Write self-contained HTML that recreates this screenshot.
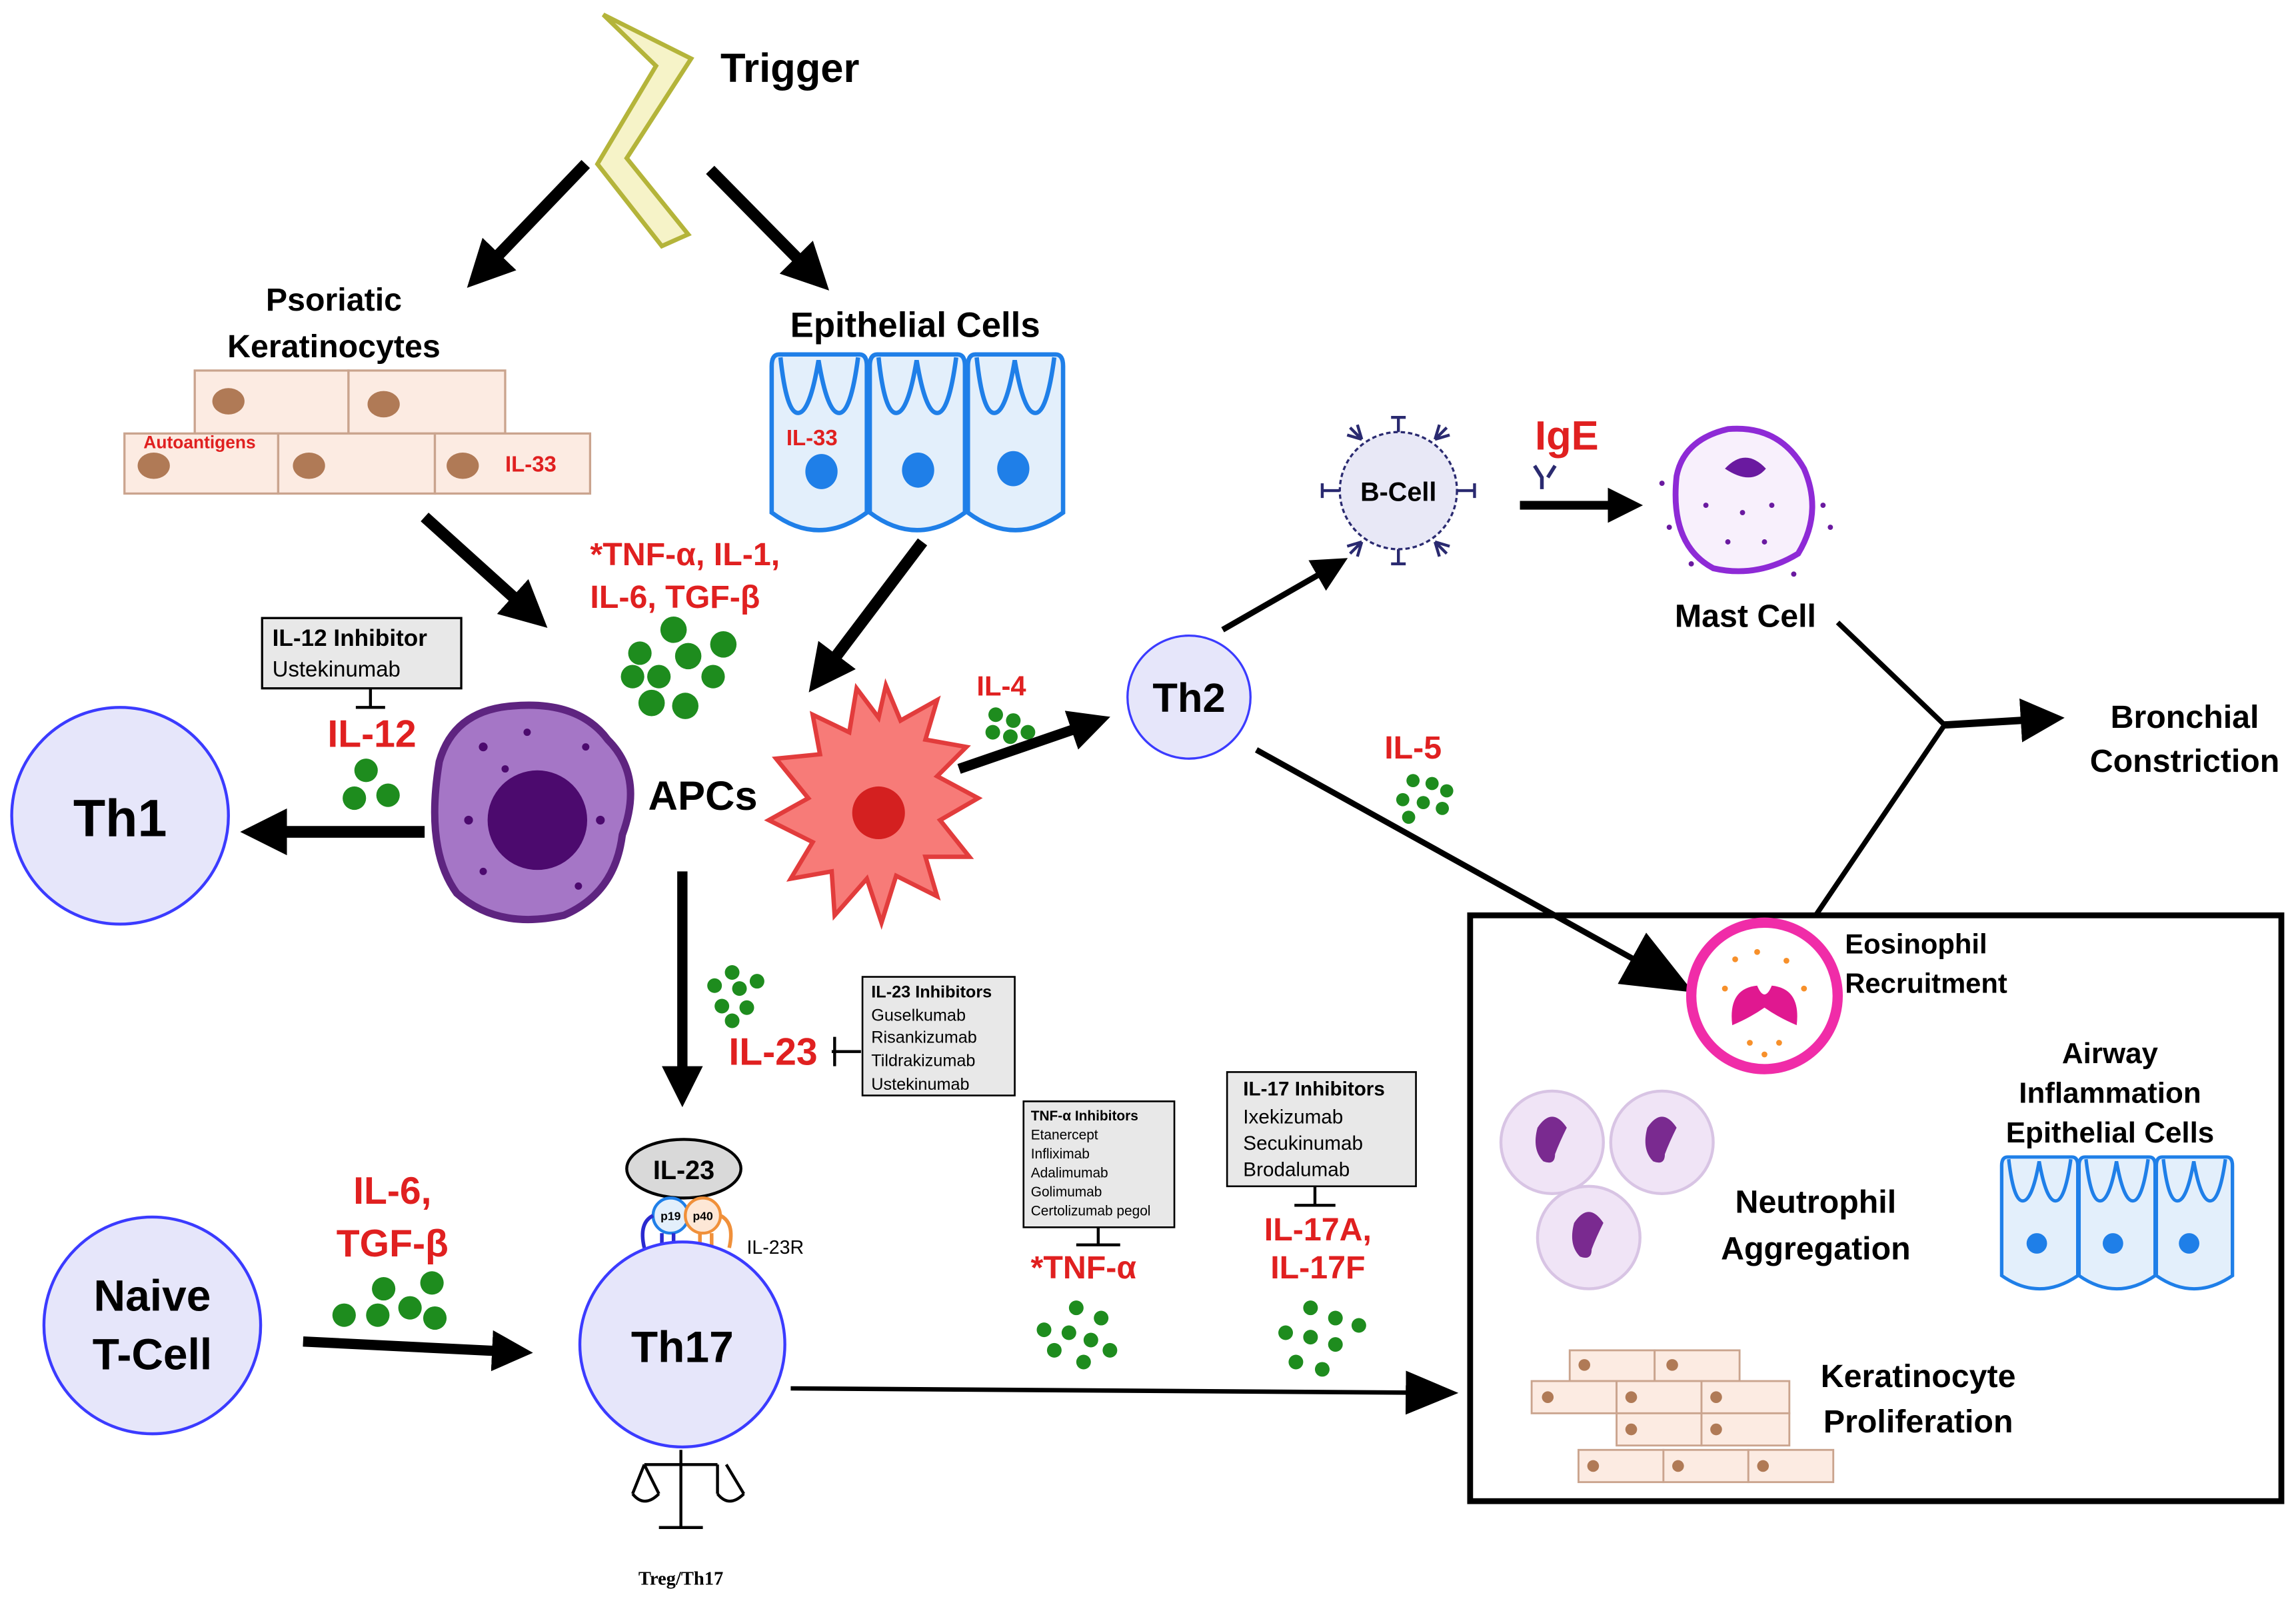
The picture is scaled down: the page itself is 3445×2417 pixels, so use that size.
<!DOCTYPE html>
<html><head><meta charset="utf-8"><style>
html,body{margin:0;padding:0;background:#fff}
svg{display:block}
text{font-family:"Liberation Sans",sans-serif;font-weight:bold}
text.n{font-weight:normal}
</style></head><body>
<svg width="3445" height="2417" viewBox="0 0 1568 1100" preserveAspectRatio="none" xmlns="http://www.w3.org/2000/svg">
<defs>
<marker id="ah" markerWidth="4" markerHeight="4" refX="2" refY="2" orient="auto" markerUnits="strokeWidth"><path d="M0,0 L4,2 L0,4 z" fill="#000"/></marker>
<marker id="ah2" markerWidth="6" markerHeight="6" refX="3" refY="3" orient="auto" markerUnits="strokeWidth"><path d="M0,0 L6,3 L0,6 z" fill="#000"/></marker>
<marker id="ah3" markerWidth="12" markerHeight="10" refX="5" refY="5" orient="auto" markerUnits="strokeWidth"><path d="M0,0 L12,5 L0,10 z" fill="#000"/></marker>
<g id="ep">
<path d="M0,8 Q0,0 5,0 L60,0 Q65,0 65,8 L65,108 Q32,132 0,108 Z" fill="#e3effb" stroke="#1f7fe8" stroke-width="3"/>
<path d="M6,2 Q10,40 18,40 Q26,40 32,4 Q38,40 46,40 Q54,40 59,2" fill="none" stroke="#1f7fe8" stroke-width="3"/>
</g>
</defs>

<path d="M412,10 L472,40 L428,108 L470,160 L452,168 L408,112 L448,45 Z" fill="#f6f3c8" stroke="#b4b43a" stroke-width="3"/>
<text x="492" y="56" font-size="28">Trigger</text>

<line x1="400" y1="112" x2="330" y2="185" stroke="#000" stroke-width="8" marker-end="url(#ah)"/>
<line x1="485" y1="116" x2="555" y2="187" stroke="#000" stroke-width="8" marker-end="url(#ah)"/>

<text x="228" y="212" font-size="22" text-anchor="middle">Psoriatic</text>
<text x="228" y="244" font-size="22" text-anchor="middle">Keratinocytes</text>
<g fill="#fcebe2" stroke="#caa48e" stroke-width="1.5">
<rect x="133" y="253" width="105" height="43"/><rect x="238" y="253" width="107" height="43"/>
<rect x="85" y="296" width="105" height="41"/><rect x="190" y="296" width="107" height="41"/><rect x="297" y="296" width="106" height="41"/>
</g>
<g fill="#b07a56"><ellipse cx="156" cy="274" rx="11" ry="9"/><ellipse cx="262" cy="276" rx="11" ry="9"/><ellipse cx="105" cy="318" rx="11" ry="9"/><ellipse cx="211" cy="318" rx="11" ry="9"/><ellipse cx="316" cy="318" rx="11" ry="9"/></g>
<text x="98" y="306" font-size="12" fill="#e02020">Autoantigens</text>
<text x="345" y="322" font-size="15" fill="#e02020">IL-33</text>

<text x="625" y="230" font-size="24" text-anchor="middle">Epithelial Cells</text>
<use href="#ep" x="527" y="242"/><use href="#ep" x="594" y="242"/><use href="#ep" x="661" y="242"/>
<g fill="#1f7fe8"><ellipse cx="561" cy="322" rx="11" ry="12"/><ellipse cx="627" cy="321" rx="11" ry="12"/><ellipse cx="692" cy="320" rx="11" ry="12"/></g>
<text x="537" y="304" font-size="15" fill="#e02020">IL-33</text>

<line x1="290" y1="353" x2="362" y2="418" stroke="#000" stroke-width="8" marker-end="url(#ah)"/>
<line x1="630" y1="370" x2="562" y2="460" stroke="#000" stroke-width="8" marker-end="url(#ah)"/>

<text x="403" y="386" font-size="22" fill="#e02020">*TNF-α, IL-1,</text>
<text x="403" y="415" font-size="22" fill="#e02020">IL-6, TGF-β</text>
<g fill="#1e8c1e"><circle cx="460" cy="430" r="9"/><circle cx="437" cy="446" r="8"/><circle cx="470" cy="448" r="9"/><circle cx="494" cy="440" r="9"/><circle cx="432" cy="462" r="8"/><circle cx="450" cy="462" r="8"/><circle cx="487" cy="462" r="8"/><circle cx="445" cy="480" r="9"/><circle cx="468" cy="482" r="9"/></g>

<rect x="179" y="422" width="136" height="48" fill="#e8e8e8" stroke="#000" stroke-width="1.5"/>
<text x="186" y="441" font-size="16">IL-12 Inhibitor</text>
<text x="186" y="462" font-size="15" class="n">Ustekinumab</text>
<line x1="253" y1="470" x2="253" y2="483" stroke="#000" stroke-width="2"/><line x1="243" y1="483" x2="263" y2="483" stroke="#000" stroke-width="2"/>
<text x="254" y="510" font-size="26" fill="#e02020" text-anchor="middle">IL-12</text>
<g fill="#1e8c1e"><circle cx="250" cy="526" r="8"/><circle cx="242" cy="545" r="8"/><circle cx="265" cy="543" r="8"/></g>

<circle cx="82" cy="557" r="74" fill="#e6e6fa" stroke="#3b3bff" stroke-width="2"/>
<text x="82" y="571" font-size="36" text-anchor="middle">Th1</text>
<line x1="290" y1="568" x2="180" y2="568" stroke="#000" stroke-width="8" marker-end="url(#ah)"/>

<path d="M300,520 Q310,485 350,482 Q395,478 415,505 Q440,530 425,570 Q420,610 385,625 Q340,635 312,610 Q290,580 300,520 Z" fill="#a576c6" stroke="#5e2480" stroke-width="5"/>
<circle cx="367" cy="560" r="34" fill="#4c0a6e"/>
<g fill="#4c0a6e"><circle cx="330" cy="510" r="3"/><circle cx="345" cy="525" r="2.5"/><circle cx="320" cy="560" r="3"/><circle cx="330" cy="595" r="2.5"/><circle cx="400" cy="510" r="2.5"/><circle cx="410" cy="560" r="3"/><circle cx="395" cy="605" r="2.5"/><circle cx="360" cy="500" r="2.5"/></g>
<text x="480" y="553" font-size="28" text-anchor="middle">APCs</text>

<g fill="#f77b78" stroke="#e23c3c" stroke-width="3">
<path d="M600,490 L605,468 L615,492 L640,478 L632,505 L660,510 L640,530 L668,545 L642,560 L662,585 L632,585 L640,612 L612,598 L602,630 L592,600 L570,625 L568,595 L540,600 L555,575 L525,560 L552,545 L530,518 L560,515 L555,488 L580,500 L585,470 Z"/>
</g>
<circle cx="600" cy="555" r="18" fill="#d42020"/>

<text x="667" y="475" font-size="19" fill="#e02020">IL-4</text>
<g fill="#1e8c1e"><circle cx="680" cy="488" r="5"/><circle cx="692" cy="492" r="5"/><circle cx="678" cy="500" r="5"/><circle cx="690" cy="503" r="5"/><circle cx="702" cy="500" r="5"/></g>
<line x1="655" y1="525" x2="745" y2="494" stroke="#000" stroke-width="7" marker-end="url(#ah)"/>
<circle cx="812" cy="476" r="42" fill="#e6e6fa" stroke="#3b3bff" stroke-width="1.5"/>
<text x="812" y="486" font-size="28" text-anchor="middle">Th2</text>
<line x1="835" y1="430" x2="910" y2="387" stroke="#000" stroke-width="4" marker-end="url(#ah2)"/>

<circle cx="955" cy="335" r="40" fill="#e8e8f6" stroke="#2a2a70" stroke-width="1.5" stroke-dasharray="3,2"/>
<g stroke="#2a2a70" stroke-width="2" fill="none">
<path d="M930,300 l-8,-8 M930,300 l-3,-10 M930,300 l-10,-3"/><path d="M980,300 l8,-8 M980,300 l3,-10 M980,300 l10,-3"/>
<path d="M930,370 l-8,8 M930,370 l-3,10 M930,370 l-10,3"/><path d="M980,370 l8,8 M980,370 l3,10 M980,370 l10,3"/>
<path d="M915,335 h-12 M903,330 v10"/><path d="M995,335 h12 M1007,330 v10"/>
<path d="M955,295 v-10 M950,285 h10"/><path d="M955,375 v10 M950,385 h10"/>
</g>
<text x="955" y="342" font-size="18" text-anchor="middle">B-Cell</text>
<text x="1070" y="307" font-size="28" fill="#e02020" text-anchor="middle">IgE</text>
<path d="M1048,318 l5,8 v8 M1062,318 l-5,8" stroke="#2a2a70" stroke-width="2.5" fill="none"/>
<line x1="1038" y1="345" x2="1110" y2="345" stroke="#000" stroke-width="6" marker-end="url(#ah)"/>

<path d="M1145,325 Q1150,300 1180,293 Q1215,290 1232,320 Q1245,350 1228,378 Q1200,395 1170,388 Q1140,372 1145,325 Z" fill="#f8f0fc" stroke="#8e2ad6" stroke-width="4"/>
<path d="M1178,320 Q1192,305 1206,320 Q1196,332 1178,320 Z" fill="#6a1aa0"/>
<g fill="#6a1aa0"><circle cx="1165" cy="345" r="1.8"/><circle cx="1190" cy="350" r="1.8"/><circle cx="1210" cy="345" r="1.8"/><circle cx="1180" cy="370" r="1.8"/><circle cx="1205" cy="370" r="1.8"/><circle cx="1135" cy="330" r="1.8"/><circle cx="1140" cy="360" r="1.8"/><circle cx="1245" cy="345" r="1.8"/><circle cx="1250" cy="360" r="1.8"/><circle cx="1155" cy="385" r="1.8"/><circle cx="1225" cy="392" r="1.8"/></g>
<text x="1192" y="428" font-size="22" text-anchor="middle">Mast Cell</text>

<polyline points="1255,425 1328,495 1240,625" fill="none" stroke="#000" stroke-width="3.5"/>
<line x1="1328" y1="495" x2="1395" y2="491" stroke="#000" stroke-width="5" marker-end="url(#ah2)"/>
<text x="1492" y="497" font-size="22" text-anchor="middle">Bronchial</text>
<text x="1492" y="527" font-size="22" text-anchor="middle">Constriction</text>

<text x="965" y="518" font-size="22" fill="#e02020" text-anchor="middle">IL-5</text>
<g fill="#1e8c1e"><circle cx="965" cy="533" r="4.5"/><circle cx="978" cy="535" r="4.5"/><circle cx="988" cy="540" r="4.5"/><circle cx="958" cy="546" r="4.5"/><circle cx="972" cy="548" r="4.5"/><circle cx="985" cy="552" r="4.5"/><circle cx="962" cy="558" r="4.5"/></g>
<line x1="858" y1="512" x2="1132" y2="664" stroke="#000" stroke-width="4" marker-end="url(#ah3)"/>

<line x1="466" y1="595" x2="466" y2="742" stroke="#000" stroke-width="7" marker-end="url(#ah)"/>
<g fill="#1e8c1e"><circle cx="500" cy="664" r="5"/><circle cx="488" cy="673" r="5"/><circle cx="505" cy="675" r="5"/><circle cx="517" cy="670" r="5"/><circle cx="493" cy="687" r="5"/><circle cx="510" cy="688" r="5"/><circle cx="500" cy="697" r="5"/></g>
<text x="528" y="727" font-size="26" fill="#e02020" text-anchor="middle">IL-23</text>
<line x1="568" y1="718" x2="588" y2="718" stroke="#000" stroke-width="2"/><line x1="570" y1="708" x2="570" y2="728" stroke="#000" stroke-width="2"/>
<rect x="589" y="667" width="104" height="81" fill="#e8e8e8" stroke="#000" stroke-width="1.2"/>
<text x="595" y="681" font-size="11.5">IL-23 Inhibitors</text>
<text x="595" y="697" font-size="11.5" class="n">Guselkumab</text><text x="595" y="712" font-size="11.5" class="n">Risankizumab</text><text x="595" y="728" font-size="11.5" class="n">Tildrakizumab</text><text x="595" y="744" font-size="11.5" class="n">Ustekinumab</text>

<rect x="699" y="752" width="103" height="86" fill="#e8e8e8" stroke="#000" stroke-width="1.2"/>
<text x="704" y="765" font-size="9.5">TNF-α Inhibitors</text>
<text x="704" y="778" font-size="9.5" class="n">Etanercept</text>
<text x="704" y="791" font-size="9.5" class="n">Infliximab</text>
<text x="704" y="804" font-size="9.5" class="n">Adalimumab</text>
<text x="704" y="817" font-size="9.5" class="n">Golimumab</text>
<text x="704" y="830" font-size="9.5" class="n">Certolizumab pegol</text>
<line x1="750" y1="838" x2="750" y2="850" stroke="#000" stroke-width="2"/><line x1="735" y1="850" x2="765" y2="850" stroke="#000" stroke-width="2"/>
<text x="740" y="873" font-size="22" fill="#e02020" text-anchor="middle">*TNF-α</text>
<g fill="#1e8c1e"><circle cx="735" cy="893" r="5"/><circle cx="752" cy="900" r="5"/><circle cx="713" cy="908" r="5"/><circle cx="730" cy="910" r="5"/><circle cx="745" cy="915" r="5"/><circle cx="720" cy="922" r="5"/><circle cx="740" cy="930" r="5"/><circle cx="758" cy="922" r="5"/></g>

<rect x="838" y="732" width="129" height="78" fill="#e8e8e8" stroke="#000" stroke-width="1.2"/>
<text x="849" y="748" font-size="13.5">IL-17 Inhibitors</text>
<text x="849" y="767" font-size="13.5" class="n">Ixekizumab</text>
<text x="849" y="785" font-size="13.5" class="n">Secukinumab</text>
<text x="849" y="803" font-size="13.5" class="n">Brodalumab</text>
<line x1="898" y1="810" x2="898" y2="823" stroke="#000" stroke-width="2"/><line x1="884" y1="823" x2="912" y2="823" stroke="#000" stroke-width="2"/>
<text x="900" y="847" font-size="22" fill="#e02020" text-anchor="middle">IL-17A,</text>
<text x="900" y="873" font-size="22" fill="#e02020" text-anchor="middle">IL-17F</text>
<g fill="#1e8c1e"><circle cx="895" cy="893" r="5"/><circle cx="912" cy="900" r="5"/><circle cx="928" cy="905" r="5"/><circle cx="878" cy="910" r="5"/><circle cx="895" cy="913" r="5"/><circle cx="912" cy="918" r="5"/><circle cx="885" cy="930" r="5"/><circle cx="903" cy="935" r="5"/></g>

<ellipse cx="467" cy="798" rx="39" ry="20" fill="#d9d9d9" stroke="#000" stroke-width="2"/>
<text x="467" y="805" font-size="18" text-anchor="middle">IL-23</text>
<circle cx="458" cy="830" r="12" fill="#e3effb" stroke="#1f7fe8" stroke-width="2"/>
<circle cx="480" cy="830" r="12" fill="#fde7d6" stroke="#f0903a" stroke-width="2"/>
<text x="458" y="833" font-size="8" text-anchor="middle">p19</text><text x="480" y="833" font-size="8" text-anchor="middle">p40</text>
<path d="M446,830 Q436,835 440,852 M452,842 v15 M460,842 v15" stroke="#2a2ad0" stroke-width="2.5" fill="none"/>
<path d="M492,830 Q502,835 498,852 M478,842 v15 M486,842 v15" stroke="#f0903a" stroke-width="2.5" fill="none"/>
<text x="510" y="856" font-size="13" class="n">IL-23R</text>
<circle cx="466" cy="918" r="70" fill="#e6e6fa" stroke="#3b3bff" stroke-width="2"/>
<text x="466" y="930" font-size="30" text-anchor="middle">Th17</text>
<g stroke="#000" stroke-width="2" fill="none"><line x1="465" y1="990" x2="465" y2="1043"/><line x1="440" y1="1000" x2="490" y2="1000"/><line x1="450" y1="1043" x2="480" y2="1043"/><path d="M432,1020 Q440,1030 450,1020 M490,1020 Q498,1030 508,1020"/><path d="M440,1000 L432,1020 M440,1000 L450,1020 M490,1000 L490,1020 M496,1000 L508,1020"/></g>
<text x="465" y="1082" font-size="13" text-anchor="middle" style="font-family:'Liberation Serif',serif">Treg/Th17</text>

<circle cx="104" cy="905" r="74" fill="#e6e6fa" stroke="#3b3bff" stroke-width="2"/>
<text x="104" y="895" font-size="30" text-anchor="middle">Naive</text>
<text x="104" y="935" font-size="30" text-anchor="middle">T-Cell</text>
<text x="268" y="822" font-size="26" fill="#e02020" text-anchor="middle">IL-6,</text>
<text x="268" y="858" font-size="26" fill="#e02020" text-anchor="middle">TGF-β</text>
<g fill="#1e8c1e"><circle cx="262" cy="880" r="8"/><circle cx="295" cy="876" r="8"/><circle cx="235" cy="898" r="8"/><circle cx="258" cy="898" r="8"/><circle cx="280" cy="893" r="8"/><circle cx="297" cy="900" r="8"/></g>
<line x1="207" y1="916" x2="350" y2="923" stroke="#000" stroke-width="7" marker-end="url(#ah)"/>
<line x1="540" y1="948" x2="975" y2="951" stroke="#000" stroke-width="3" marker-end="url(#ah3)"/>

<rect x="1004" y="625" width="554" height="400" fill="none" stroke="#000" stroke-width="4"/>
<circle cx="1205" cy="680" r="50" fill="#fff" stroke="#f02ca8" stroke-width="7"/>
<path d="M1183,700 Q1180,675 1200,673 Q1205,685 1210,673 Q1230,675 1227,700 Q1215,695 1205,688 Q1195,695 1183,700 Z" fill="#e01890"/>
<g fill="#f7902a"><circle cx="1185" cy="655" r="2"/><circle cx="1200" cy="650" r="2"/><circle cx="1220" cy="656" r="2"/><circle cx="1178" cy="675" r="2"/><circle cx="1232" cy="675" r="2"/><circle cx="1195" cy="712" r="2"/><circle cx="1215" cy="712" r="2"/><circle cx="1205" cy="720" r="2"/></g>
<text x="1260" y="651" font-size="19">Eosinophil</text>
<text x="1260" y="678" font-size="19">Recruitment</text>
<g fill="#f0e4f6" stroke="#d8c4e4" stroke-width="2"><circle cx="1060" cy="780" r="35"/><circle cx="1135" cy="780" r="35"/><circle cx="1085" cy="845" r="35"/></g>
<g fill="#7a2a90"><path d="M1050,770 q10,-15 20,0 q-5,10 -8,18 q0,8 -8,5 q-8,-8 -4,-23z"/><path d="M1125,770 q10,-15 20,0 q-5,10 -8,18 q0,8 -8,5 q-8,-8 -4,-23z"/><path d="M1075,835 q10,-15 20,0 q-5,10 -8,18 q0,8 -8,5 q-8,-8 -4,-23z"/></g>
<text x="1240" y="828" font-size="22" text-anchor="middle">Neutrophil</text>
<text x="1240" y="860" font-size="22" text-anchor="middle">Aggregation</text>
<text x="1441" y="726" font-size="20" text-anchor="middle">Airway</text>
<text x="1441" y="753" font-size="20" text-anchor="middle">Inflammation</text>
<text x="1441" y="780" font-size="20" text-anchor="middle">Epithelial Cells</text>
<g transform="translate(1367,790) scale(0.8,0.75)"><use href="#ep" x="0" y="0"/><use href="#ep" x="66" y="0"/><use href="#ep" x="132" y="0"/></g>
<g fill="#1f7fe8"><circle cx="1391" cy="849" r="7"/><circle cx="1443" cy="849" r="7"/><circle cx="1495" cy="849" r="7"/></g>
<g fill="#fcebe2" stroke="#caa48e" stroke-width="1.3">
<rect x="1072" y="922" width="58" height="21"/><rect x="1130" y="922" width="58" height="21"/>
<rect x="1046" y="943" width="58" height="22"/><rect x="1104" y="943" width="58" height="22"/><rect x="1162" y="943" width="60" height="22"/>
<rect x="1104" y="965" width="58" height="22"/><rect x="1162" y="965" width="60" height="22"/>
<rect x="1078" y="990" width="58" height="22"/><rect x="1136" y="990" width="58" height="22"/><rect x="1194" y="990" width="58" height="22"/>
</g>
<g fill="#b07a56"><circle cx="1082" cy="932" r="4"/><circle cx="1142" cy="932" r="4"/><circle cx="1057" cy="954" r="4"/><circle cx="1114" cy="954" r="4"/><circle cx="1172" cy="954" r="4"/><circle cx="1114" cy="976" r="4"/><circle cx="1172" cy="976" r="4"/><circle cx="1088" cy="1001" r="4"/><circle cx="1146" cy="1001" r="4"/><circle cx="1204" cy="1001" r="4"/></g>
<text x="1310" y="947" font-size="22" text-anchor="middle">Keratinocyte</text>
<text x="1310" y="978" font-size="22" text-anchor="middle">Proliferation</text>
</svg>
</body></html>
